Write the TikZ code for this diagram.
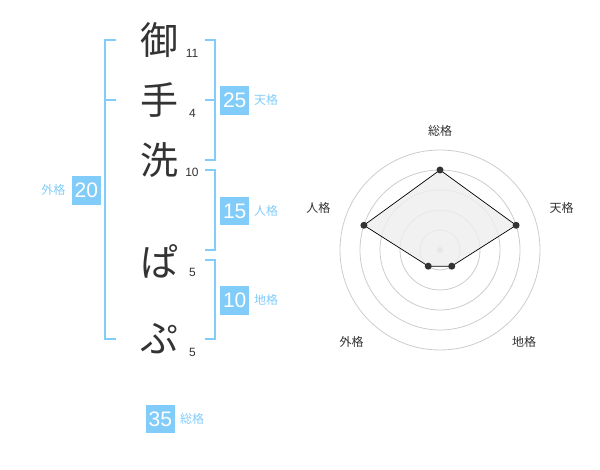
\documentclass[tikz,border=0pt]{standalone}
\usepackage{fontspec}
\usetikzlibrary{calc}
\setmainfont{Liberation Sans}
\newfontfamily\jp{Noto Sans CJK JP}
\definecolor{kblue}{RGB}{130,204,250}
\definecolor{kdark}{RGB}{51,51,51}
\definecolor{kgrid}{RGB}{204,204,204}
\definecolor{kfill}{RGB}{238,238,238}
\tikzset{
  bigch/.style={font=\jp\fontsize{38}{38}\selectfont, text=kdark, inner sep=0pt},
  strokenum/.style={font=\fontsize{12}{12}\selectfont, text=kdark, inner sep=0pt},
  numbox/.style={fill=kblue, text=white, minimum width=28.5pt, minimum height=28.5pt, inner sep=0pt, font=\fontsize{21}{21}\selectfont},
  kaku/.style={font=\jp\fontsize{12}{12}\selectfont, text=kblue, inner sep=0pt},
  brk/.style={draw=kblue, line width=2pt},
  rlabel/.style={font=\jp\fontsize{12}{12}\selectfont, text=kdark, inner sep=0pt},
  ring/.style={draw=kgrid, line width=0.8pt},
  dot/.style={circle, fill=kdark, inner sep=0pt, minimum size=7pt},
}
\begin{document}
\begin{tikzpicture}[x=1pt,y=-1pt]
\useasboundingbox (0,0) rectangle (600,470);
% characters
\node[bigch] (c1) at (159,40.5) {御};
\node[bigch] (c2) at (159,100.5) {手};
\node[bigch] (c3) at (159,160) {洗};
\node[bigch] (c4) at (159,261) {ぱ};
\node[bigch] (c5) at (159,339) {ぷ};
\node[strokenum] (n1) at (192,53) {11};
\node[strokenum] (n2) at (192.5,113) {4};
\node[strokenum] (n3) at (192,172.5) {10};
\node[strokenum] (n4) at (192.5,272.5) {5};
\node[strokenum] (n5) at (192.5,352.5) {5};
% brackets
\draw[brk] (116,40) -- (105,40) -- (105,339) -- (116,339);
\draw[brk] (105,100) -- (116,100);
\draw[brk] (205,40) -- (214.5,40) -- (214.5,160) -- (205,160);
\draw[brk] (205,100) -- (214.5,100);
\draw[brk] (205,170) -- (214.5,170) -- (214.5,250) -- (205,250);
\draw[brk] (205,260) -- (214.5,260) -- (214.5,339) -- (205,339);
% boxes
\node[numbox] (b25) at (234.7,100.3) {25};
\node[kaku, anchor=west] (l25) at (254,100.3) {天格};
\node[numbox] (b15) at (234.7,211) {15};
\node[kaku, anchor=west] (l15) at (254,211) {人格};
\node[numbox] (b10) at (234.7,300.3) {10};
\node[kaku, anchor=west] (l10) at (254,300.3) {地格};
\node[numbox] (b20) at (86.3,190.3) {20};
\node[kaku, anchor=east] (l20) at (65.5,190.3) {外格};
\node[numbox] (b35) at (160.3,419.2) {35};
\node[kaku, anchor=west] (l35) at (180,419.2) {総格};
% radar
\coordinate (rc) at (440,250);
\foreach \r in {20,40,60,80,100} \draw[ring] (rc) circle (\r);
\fill[kgrid] (rc) circle (3.2);
\coordinate (p1) at ($(rc)+(-90:80)$);
\coordinate (p2) at ($(rc)+(-18:80)$);
\coordinate (p3) at ($(rc)+(54:20)$);
\coordinate (p4) at ($(rc)+(126:20)$);
\coordinate (p5) at ($(rc)+(198:80)$);
\filldraw[fill=kfill, fill opacity=0.8, draw=black, line width=0.7pt] (p1) -- (p2) -- (p3) -- (p4) -- (p5) -- cycle;
\foreach \p in {p1,p2,p3,p4,p5} \node[dot] at (\p) {};
\node[rlabel] (r1) at (440,130.7) {総格};
\node[rlabel] (r2) at (561.7,208.3) {天格};
\node[rlabel] (r3) at (524,341.7) {地格};
\node[rlabel] (r4) at (351.7,341.7) {外格};
\node[rlabel] (r5) at (318.3,208.3) {人格};
\end{tikzpicture}
\end{document}
